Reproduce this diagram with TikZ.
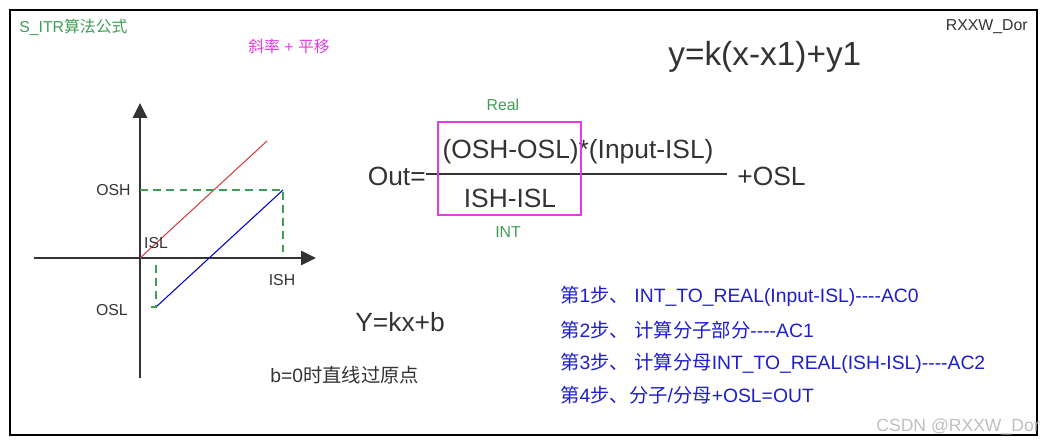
\documentclass[tikz,border=0pt]{standalone}
\usepackage{fontspec}
\setmainfont{Liberation Sans}
\newfontfamily\cjk{Noto Sans CJK SC}
\usetikzlibrary{arrows.meta}

\definecolor{notegreen}{HTML}{3E9E55}
\definecolor{notepink}{HTML}{E23CE2}
\definecolor{stepblue}{HTML}{1E1ECC}
\definecolor{axisgray}{HTML}{333333}
\newcommand{\zh}[1]{{\cjk #1}}
\newcommand{\fs}[1]{\fontsize{#1}{#1}\selectfont}
\newcommand{\hyph}{-\kern0pt-\kern0pt-\kern0pt-}

\begin{document}
\begin{tikzpicture}[x=0.02cm, y=-0.02cm,
  txt/.style={inner sep=0pt, text=axisgray},
  note/.style={inner sep=0pt, text=notegreen, font=\fs{9}},
  steptext/.style={inner sep=0pt, anchor=west, text=stepblue, font=\fs{11}},
  axis/.style={line width=1.3pt, draw=axisgray, -{Triangle[length=8.5pt,width=8pt]}},
  guide/.style={draw=notegreen, line width=0.8pt, dash pattern=on 4.5pt off 3pt}]
\useasboundingbox (0,0) rectangle (1047,445);
\draw [line width=1.2pt] (10,10) rectangle (1037,435);

% headings
\node[note, anchor=west] (title) at (19,27) {S\_ITR\zh{算法公式}};
\node[inner sep=0pt, anchor=west, text=notepink, font=\fs{9}] (shift) at (248,46) {\zh{斜率} + \zh{平移}};
\node[txt, anchor=east, font=\fs{9}] (author) at (1028,27) {RXXW\_Dor};
\node[txt, anchor=west, font=\fs{19}] (pointform) at (668,57) {y=k(x-x1)+y1};

% graph
\coordinate (O) at (140,258);
\coordinate (ytop) at (140,103);
\coordinate (ybot) at (140,378);
\coordinate (xleft) at (34,258);
\coordinate (xright) at (316,258);
\draw [axis] (ybot) -- (ytop);
\draw [axis] (xleft) -- (xright);
\coordinate (redend) at (267,141);
\coordinate (lo) at (156,307);
\coordinate (hi) at (283,190);
\draw [draw={rgb,255:red,208;green,64;blue,64}, line width=0.6pt] (O) -- (redend);
\draw [draw={rgb,255:red,0;green,0;blue,204}, line width=0.6pt] (lo) -- (hi);
\draw [guide]
     (O |- hi)
  -- (hi)
  -- ++(0,62);
\draw [guide]
     (156,265)
  -- (lo)
  -- ++(-9,0);
\node[txt, anchor=east, font=\fs{9}] (osh) at (131,190) {OSH};
\node[txt, font=\fs{9}] (isl) at (156,243) {ISL};
\node[txt, font=\fs{9}] (ish) at (282,280) {ISH};
\node[txt, anchor=east, font=\fs{9}] (osl) at (128,310) {OSL};

% formula
\node[txt, anchor=east, font=\fs{15}] (out) at (426,176) {Out=};
\coordinate (barend) at (727,174);
\draw [line width=0.9pt, draw=axisgray] (out.east |- barend) -- (barend);
\node[txt, font=\fs{15}] (numer) at (578,152) {(OSH-OSL)*(Input-ISL)};
\node[txt, font=\fs{15}] (denom) at (510,198) {ISH-ISL};
\node[txt, anchor=west, font=\fs{15}] (plusosl) at (737,176) {+OSL};
\draw [draw=notepink, line width=1pt] (438,122) rectangle (581,215);
\node[note] (real) at (503,105) {Real};
\node[note] (int) at (508,232) {INT};

\node[txt, anchor=west, font=\fs{15}] (line) at (355,322) {Y=kx+b};
\node[txt, anchor=west, font=\fs{11}] (origin) at (270,375) {b=0\zh{时直线过原点}};

% steps
\node[steptext] (s1) at (560,296) {\zh{第}1\zh{步、} INT\_TO\_REAL(Input-ISL)\hyph AC0};
\node[steptext] (s2) at (560,330) {\zh{第}2\zh{步、} \zh{计算分子部分}\hyph AC1};
\node[steptext] (s3) at (560,363) {\zh{第}3\zh{步、} \zh{计算分母}INT\_TO\_REAL(ISH-ISL)\hyph AC2};
\node[steptext] (s4) at (560,395) {\zh{第}4\zh{步、分子}/\zh{分母}+OSL=OUT};

\node[inner sep=0pt, anchor=east, text=black!25, font=\fs{10}] (mark) at (1040,427) {CSDN @RXXW\_Dor};
\end{tikzpicture}
\end{document}
